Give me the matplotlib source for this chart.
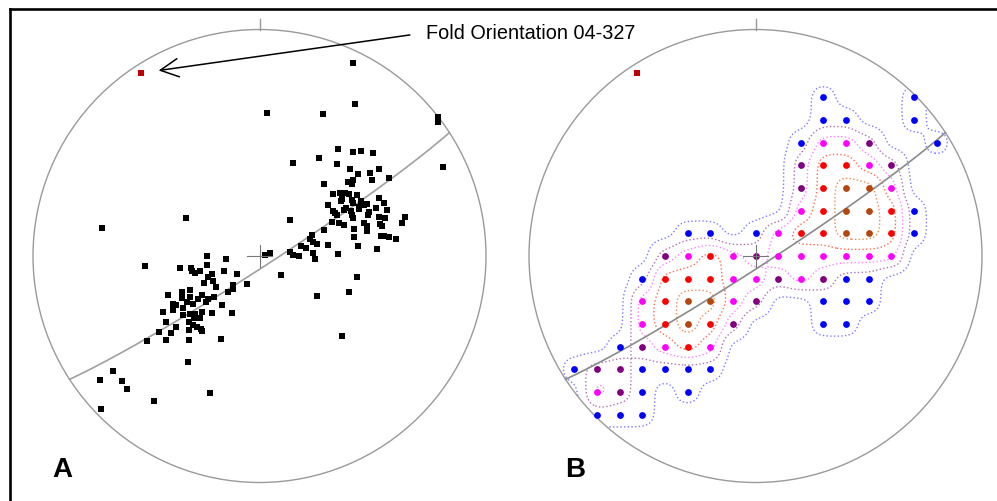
import numpy as np
import matplotlib
matplotlib.use('Agg')
import matplotlib.pyplot as plt
from matplotlib.lines import Line2D
from matplotlib.patches import Circle

plt.rcParams['font.family'] = ['Liberation Sans', 'DejaVu Sans']

# fold axis (trend / plunge, degrees)
fold_trend = 327
fold_plunge = 4
fold_label = 'Fold Orientation 04-327'

# poles, equal-area net coordinates (primitive radius = 1)
pole_x = [0.414, 0.422, 0.032, 0.279, 0.788, 0.786, 0.810, -0.697, -0.326, 0.135,
          -0.506, -0.314, -0.219, -0.647, -0.702, -0.608, -0.586, -0.466, -0.701, 0.366,
          0.253, 0.396, 0.429, 0.095,
          0.149, 0.263, 0.347, 0.414, 0.448, 0.503, 0.342, 0.398, 0.434, 0.488,
          0.529, 0.495, 0.570, 0.286, 0.389, 0.411, 0.410, 0.326, 0.355, 0.377,
          0.396, 0.432, 0.364, 0.362, 0.407, 0.415, 0.447, 0.473, 0.528, 0.551,
          0.304, 0.323, 0.333, 0.342, 0.382, 0.373, 0.403, 0.407, 0.411, 0.438,
          0.441, 0.460, 0.482, 0.478, 0.514, 0.562, 0.321, 0.352, 0.373, 0.419,
          0.463, 0.473, 0.473, 0.529, 0.554, 0.532, 0.541, 0.642, 0.628, 0.285,
          0.416, 0.535, 0.550, 0.572, 0.604, 0.230, 0.223, 0.238, 0.253, 0.304,
          0.183, 0.205, 0.436, 0.517, 0.345, 0.135, 0.149, 0.173, 0.234, 0.245,
          0.024, 0.046,
          -0.349, -0.304, -0.296, -0.285, -0.261, -0.233, -0.230, -0.148, -0.208, -0.226,
          -0.158, -0.098, -0.244, -0.207, -0.190, -0.307, -0.344, -0.403, -0.344, -0.309,
          -0.272, -0.256, -0.227, -0.234, -0.201, -0.116, -0.118, -0.138, -0.057, -0.381,
          -0.367, -0.339, -0.321, -0.292, -0.167, -0.428, -0.381, -0.336, -0.307, -0.283,
          -0.255, -0.288, -0.264, -0.211, -0.123, -0.414, -0.370, -0.310, -0.292, -0.277,
          -0.260, -0.253, -0.311, -0.443, -0.391, -0.495, -0.413, -0.310, -0.170]
pole_y = [0.851, 0.671, 0.630, 0.625, 0.615, 0.590, 0.394, 0.124, 0.166, 0.159,
          -0.044, -0.469, -0.604, -0.506, -0.549, -0.551, -0.587, -0.639, -0.675, -0.352,
          -0.177, -0.160, -0.091, -0.082,
          0.412, 0.434, 0.474, 0.460, 0.462, 0.453, 0.406, 0.384, 0.362, 0.366,
          0.384, 0.336, 0.343, 0.317, 0.328, 0.334, 0.317, 0.272, 0.277, 0.279,
          0.272, 0.269, 0.250, 0.241, 0.246, 0.236, 0.244, 0.230, 0.258, 0.233,
          0.227, 0.200, 0.189, 0.181, 0.211, 0.201, 0.200, 0.181, 0.168, 0.206,
          0.218, 0.225, 0.196, 0.181, 0.210, 0.204, 0.151, 0.146, 0.136, 0.121,
          0.147, 0.134, 0.110, 0.170, 0.169, 0.140, 0.132, 0.174, 0.144, 0.115,
          0.082, 0.087, 0.087, 0.083, 0.075, 0.091, 0.077, 0.063, 0.052, 0.050,
          0.043, 0.037, 0.046, 0.029, 0.008, 0.019, 0.004, 0.002, 0.012, -0.015,
          0.004, 0.012,
          -0.051, -0.054, -0.068, -0.073, -0.066, 0.001, -0.041, -0.014, -0.078, -0.093,
          -0.068, -0.079, -0.119, -0.111, -0.138, -0.152, -0.159, -0.171, -0.184, -0.181,
          -0.189, -0.170, -0.188, -0.205, -0.182, -0.126, -0.144, -0.157, -0.125, -0.212,
          -0.216, -0.231, -0.202, -0.213, -0.216, -0.249, -0.238, -0.260, -0.255, -0.254,
          -0.247, -0.274, -0.272, -0.253, -0.253, -0.291, -0.312, -0.291, -0.305, -0.312,
          -0.322, -0.331, -0.327, -0.334, -0.341, -0.374, -0.371, -0.371, -0.366]

# density grid (spacing 0.1 of net radius), columns i = -8..8, rows j = 7..-7
# 0 none, 1 blue, 2 purple, 3 magenta, 4 red, 5 brown
grid_i = list(range(-8, 9))
grid_j = list(range(7, -8, -1))
grid_levels = [
    [0, 0, 0, 0, 0, 0, 0, 0, 0, 0, 0, 1, 0, 0, 0, 1, 0],
    [0, 0, 0, 0, 0, 0, 0, 0, 0, 0, 0, 1, 1, 0, 0, 1, 0],
    [0, 0, 0, 0, 0, 0, 0, 0, 0, 0, 1, 3, 3, 2, 0, 0, 1],
    [0, 0, 0, 0, 0, 0, 0, 0, 0, 0, 2, 4, 4, 3, 2, 0, 0],
    [0, 0, 0, 0, 0, 0, 0, 0, 0, 0, 2, 4, 5, 5, 3, 0, 0],
    [0, 0, 0, 0, 0, 0, 0, 0, 0, 0, 3, 4, 5, 5, 4, 1, 0],
    [0, 0, 0, 0, 0, 1, 1, 0, 1, 3, 4, 4, 5, 5, 4, 1, 0],
    [0, 0, 0, 0, 2, 3, 4, 3, 2, 3, 3, 3, 3, 3, 3, 0, 0],
    [0, 0, 0, 1, 4, 4, 4, 3, 3, 2, 3, 2, 1, 1, 0, 0, 0],
    [0, 0, 0, 3, 4, 5, 5, 3, 2, 0, 0, 1, 1, 1, 0, 0, 0],
    [0, 0, 0, 3, 4, 5, 4, 2, 0, 0, 0, 1, 1, 0, 0, 0, 0],
    [0, 0, 1, 2, 3, 4, 3, 0, 0, 0, 0, 0, 0, 0, 0, 0, 0],
    [1, 2, 2, 1, 1, 1, 1, 0, 0, 0, 0, 0, 0, 0, 0, 0, 0],
    [0, 3, 2, 1, 0, 1, 0, 0, 0, 0, 0, 0, 0, 0, 0, 0, 0],
    [0, 1, 1, 1, 0, 0, 0, 0, 0, 0, 0, 0, 0, 0, 0, 0, 0],
]
dot_colors = ['#0000ff', '#800080', '#ff00ff', '#ff0000', '#b4460f']
line_colors = ['#7a7aff', '#b070b0', '#ff80ff', '#ff6a50', '#ee8a50']


def project(trend, plunge):
    # lower hemisphere equal-area (Schmidt) projection
    t = np.radians(trend)
    p = np.radians(plunge)
    r = np.sqrt(1 - np.sin(p))
    return r * np.sin(t), r * np.cos(t)


def great_circle(pole_trend, pole_plunge):
    dd = np.radians(pole_trend - 180)
    dip = np.radians(90 - pole_plunge)
    strike = dd - np.pi / 2
    a = np.array([np.sin(strike), np.cos(strike), 0.0])
    b = np.array([np.sin(dd) * np.cos(dip), np.cos(dd) * np.cos(dip), -np.sin(dip)])
    th = np.linspace(0, np.pi, 200)
    v = np.outer(np.cos(th), a) + np.outer(np.sin(th), b)
    f = 1 / np.sqrt(1 - v[:, 2])
    return v[:, 0] * f, v[:, 1] * f


def draw_net(ax, gc_color):
    ax.set_xlim(-1, 1)
    ax.set_ylim(-1, 1)
    ax.axis('off')
    ax.add_patch(Circle((0, 0), 1, fill=False, ec='#9a9a9a', lw=1.0, zorder=2, clip_on=False))
    ax.plot([0, 0], [1, 1.047], color='#9a9a9a', lw=1.0, clip_on=False)
    gx, gy = great_circle(fold_trend, fold_plunge)
    ax.plot(gx, gy, color=gc_color, lw=1.2, zorder=3, clip_on=False)
    ax.plot([-0.053, 0.053], [0, 0], color='#777777', lw=0.8, zorder=6)
    ax.plot([0, 0], [-0.05, 0.05], color='#777777', lw=0.8, zorder=6)
    fx, fy = project(fold_trend, fold_plunge)
    ax.scatter([fx], [fy], marker='s', s=24, color='#c00000', linewidths=0, zorder=5)


fig = plt.figure(figsize=(9.97, 5.01), dpi=100)
axA = fig.add_axes([33 / 997, 18.5 / 501, 453 / 997, 453 / 501])
axB = fig.add_axes([529 / 997, 18.5 / 501, 453 / 997, 453 / 501])

# A: poles
draw_net(axA, '#a0a0a0')
axA.scatter(pole_x, pole_y, marker='s', s=16, color='black', linewidths=0, zorder=4,
            clip_on=False)
fx, fy = project(fold_trend, fold_plunge)
axA.annotate('', xy=(fx + 0.08, fy + 0.01), xytext=(0.664, 0.976),
             arrowprops=dict(arrowstyle='->, head_length=0.65, head_width=0.33',
                             mutation_scale=20, color='black', lw=1.1,
                             shrinkA=0, shrinkB=0),
             annotation_clip=False)
axA.text(0.735, 0.956, fold_label, fontsize=14.3, ha='left', va='baseline', clip_on=False)
axA.text(-0.916, -0.976, 'A', fontsize=20, fontweight='bold', ha='left', va='baseline')

# B: contoured density (grid values smoothed with a small gaussian kernel)
draw_net(axB, '#8a8a8a')
levels = np.array(grid_levels, dtype=float)
pad = 3
Zp = np.pad(levels, pad)
xn = np.arange(grid_i[0] - pad, grid_i[-1] + pad + 1) * 0.1
yn = np.arange(grid_j[0] + pad, grid_j[-1] - pad - 1, -1) * 0.1
xf = np.linspace(-1.03, 1.03, 320)
yf = np.linspace(-1.03, 1.03, 320)
sig = 0.046
Wx = np.exp(-(xf[:, None] - xn[None, :]) ** 2 / (2 * sig ** 2))
Wy = np.exp(-(yf[:, None] - yn[None, :]) ** 2 / (2 * sig ** 2))
F = (Wy @ Zp @ Wx.T) / (Wy @ np.ones_like(Zp) @ Wx.T)
clip = Circle((0, 0), 1, transform=axB.transData)
cs = axB.contour(xf, yf, F, levels=[0.45, 1.5, 2.5, 3.5, 4.5], colors=line_colors,
                 linestyles=':', linewidths=1.0, zorder=1)
cs.set_clip_path(clip)
GI, GJ = np.meshgrid(np.array(grid_i) * 0.1, np.array(grid_j) * 0.1)
for k, c in enumerate(dot_colors):
    m = levels == k + 1
    axB.scatter(GI[m], GJ[m], s=24, color=c, linewidths=0, zorder=4)
axB.text(-0.841, -0.976, 'B', fontsize=20, fontweight='bold', ha='left', va='baseline')

# frame (cropped on right and bottom)
fig.add_artist(Line2D([10 / 997, 1], [1 - 8.5 / 501, 1 - 8.5 / 501], color='black', lw=1.9,
                      transform=fig.transFigure))
fig.add_artist(Line2D([10 / 997, 10 / 997], [0, 1 - 8.5 / 501], color='black', lw=1.9,
                      transform=fig.transFigure))

fig.savefig('out.png', dpi=100)
